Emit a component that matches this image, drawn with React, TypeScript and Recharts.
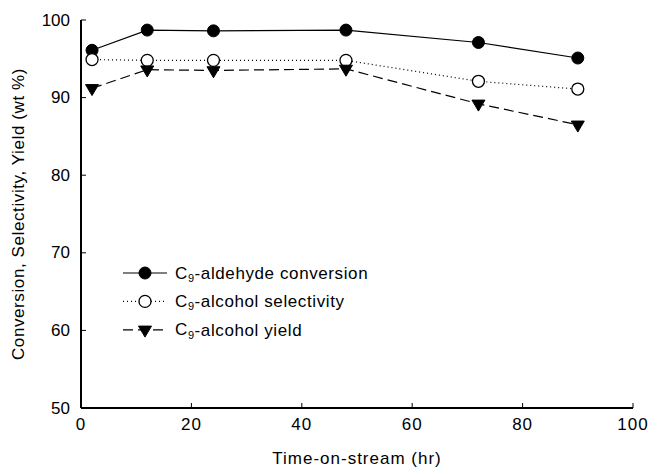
import React from "react";
import { LineChart, Line, XAxis, YAxis } from "recharts";

const hours = [2, 12, 24, 48, 72, 90];
const conversion = [96.1, 98.7, 98.6, 98.7, 97.1, 95.1];
const selectivity = [94.9, 94.8, 94.8, 94.8, 92.1, 91.1];
const yieldVals = [91.2, 93.6, 93.5, 93.7, 89.2, 86.5];
const xTicks = [0, 20, 40, 60, 80, 100];
const yTicks = [50, 60, 70, 80, 90, 100];

const data = hours.map((h, i) => ({
  h,
  conv: conversion[i],
  sel: selectivity[i],
  yld: yieldVals[i],
}));

const FONT = "'Liberation Sans', Arial, sans-serif";

const FilledDot = (p: any) =>
  p.cx == null ? null : <circle cx={p.cx} cy={p.cy} r={6} fill="#000" stroke="#000" />;
const OpenDot = (p: any) =>
  p.cx == null ? null : <circle cx={p.cx} cy={p.cy} r={6} fill="#fff" stroke="#000" strokeWidth={1.3} />;
const TriDot = (p: any) => {
  if (p.cx == null) return null;
  const w = 6.5;
  const top = p.cy - 3.7;
  const tip = p.cy + 7.3;
  return (
    <path
      d={`M${p.cx - w},${top} L${p.cx + w},${top} L${p.cx},${tip} Z`}
      fill="#000"
      stroke="#000"
    />
  );
};

const YTick = (p: any) => {
  const { x, y, payload } = p;
  const ax = x + 11;
  return (
    <g>
      <line x1={ax} x2={ax + 5} y1={y} y2={y} stroke="#000" strokeWidth={1} />
      <text x={x} y={y} textAnchor="end" dominantBaseline="central" fontSize={17} fontFamily={FONT} fill="#000">
        {payload.value}
      </text>
    </g>
  );
};

const XTick = (p: any) => {
  const { x, y, payload } = p;
  const ay = y - 10;
  return (
    <g>
      <line x1={x} x2={x} y1={ay} y2={ay - 5} stroke="#000" strokeWidth={1} />
      <text x={x} y={y + 6} textAnchor="middle" dominantBaseline="central" fontSize={17} fontFamily={FONT} fill="#000" letterSpacing={1}>
        {payload.value}
      </text>
    </g>
  );
};

const legendRows = [
  { name: "-aldehyde conversion", kind: "conv" },
  { name: "-alcohol selectivity", kind: "sel" },
  { name: "-alcohol yield", kind: "yld" },
];

const LegendBox = () => (
  <svg width={260} height={90} style={{ position: "absolute", left: 123, top: 263, overflow: "visible" }}>
    {legendRows.map((r, i) => {
      const cy = 10 + i * 28.4;
      const dash = r.kind === "conv" ? undefined : r.kind === "sel" ? "1 3" : "10 5";
      return (
        <g key={r.kind}>
          <line x1={0} x2={44} y1={cy} y2={cy} stroke="#000" strokeWidth={1.2} strokeDasharray={dash} />
          {r.kind === "conv" && <FilledDot cx={22} cy={cy} />}
          {r.kind === "sel" && <OpenDot cx={22} cy={cy} />}
          {r.kind === "yld" && <TriDot cx={22} cy={cy} />}
          <text x={52} y={cy} dominantBaseline="central" fontSize={17} fontFamily={FONT} fill="#000" letterSpacing={0.6}>
            C<tspan fontSize={11} dy={5}>9</tspan>
            <tspan dy={-5}>{r.name}</tspan>
          </text>
        </g>
      );
    })}
  </svg>
);

const YLabel = (p: any) => {
  const vb = p.viewBox || {};
  const cx = 18;
  const cy = vb.y + vb.height / 2;
  return (
    <text
      x={cx}
      y={cy}
      transform={`rotate(-90, ${cx}, ${cy})`}
      textAnchor="middle"
      dominantBaseline="central"
      fontSize={17}
      fontFamily={FONT}
      fill="#000"
      letterSpacing={0.6}
    >
      Conversion, Selectivity, Yield (wt %)
    </text>
  );
};

export default function App() {
  return (
    <div style={{ position: "absolute", left: 0, top: 0, width: 648, height: 468, background: "#fff" }}>
      <LineChart width={648} height={468} data={data} margin={{ top: 20, right: 15, bottom: 0, left: 0 }}>
        <XAxis
          dataKey="h"
          type="number"
          domain={[0, 100]}
          ticks={xTicks}
          tickSize={0}
          tickMargin={10}
          tickLine={false}
          axisLine={{ stroke: "#000", strokeWidth: 2 }}
          tick={<XTick />}
          height={60}
          label={{
            value: "Time-on-stream (hr)",
            position: "insideBottom",
            offset: 4,
            fontSize: 17,
            fontFamily: FONT,
            fill: "#000",
            letterSpacing: 1,
          }}
        />
        <XAxis xAxisId="top" orientation="top" dataKey="h" type="number" domain={[0, 100]} height={0} tick={false} tickLine={false} axisLine={{ stroke: "#000", strokeWidth: 2 }} />
        <YAxis
          type="number"
          domain={[50, 100]}
          ticks={yTicks}
          tickSize={0}
          tickMargin={11}
          tickLine={false}
          width={81}
          axisLine={{ stroke: "#000", strokeWidth: 2 }}
          tick={<YTick />}
          label={<YLabel />}
        />
        <YAxis yAxisId="right" orientation="right" type="number" domain={[50, 100]} width={0} tick={false} tickLine={false} axisLine={{ stroke: "#000", strokeWidth: 2 }} />
        <Line dataKey="conv" stroke="#000" strokeWidth={1.2} dot={<FilledDot />} activeDot={false} isAnimationActive={false} />
        <Line dataKey="sel" stroke="#000" strokeWidth={1.2} strokeDasharray="1 3" dot={<OpenDot />} activeDot={false} isAnimationActive={false} />
        <Line dataKey="yld" stroke="#000" strokeWidth={1.2} strokeDasharray="10 5" dot={<TriDot />} activeDot={false} isAnimationActive={false} />
      </LineChart>
      <LegendBox />
    </div>
  );
}
